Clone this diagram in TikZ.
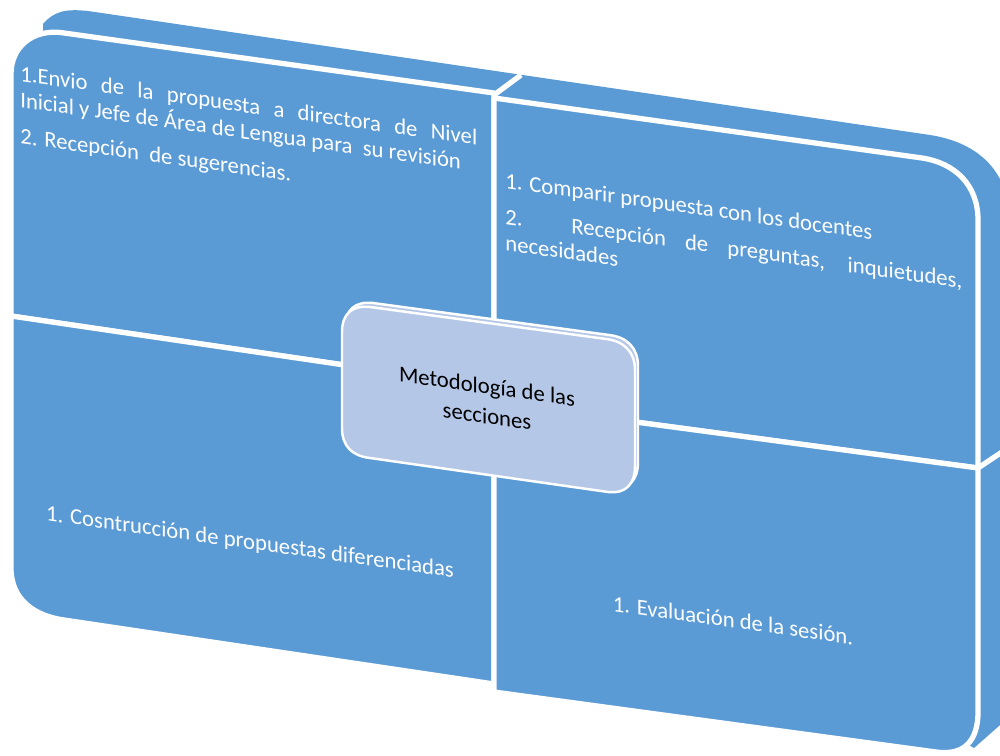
\documentclass[tikz,border=0pt]{standalone}
\usepackage{fontspec}
\setmainfont{Carlito}
\definecolor{qblue}{HTML}{5B9BD5}
\definecolor{cblue}{HTML}{B4C7E7}
\tikzset{
  face/.style={fill=qblue, draw=white, line width=3pt, line join=round},
  sepline/.style={draw=white, line width=3pt},
  cbox/.style={fill=cblue, draw=white, line width=1.4pt, line join=round},
  qtext/.style={text=white, inner sep=0pt, yslant=-0.14, font=\fontsize{12.9}{15}\selectfont},
  ctext/.style={text=black, inner sep=0pt, yslant=-0.14, font=\fontsize{12.9}{17}\selectfont},
}
\newcommand\cboxpathM{(342,332) .. controls (342,314) and (352,305) .. (370,307) -- (606,339) .. controls (624,341) and (635,352) .. (635,370) -- (635,466) .. controls (635,484) and (626,494) .. (608,492) -- (370,458) .. controls (352,456) and (342,446) .. (342,428) -- cycle}
\begin{document}
\begin{tikzpicture}[x=0.2mm,y=-0.2mm]
\useasboundingbox (0,0) rectangle (1000,756);
\fill[white] (0,0) rectangle (1000,756);
\clip (0,0) rectangle (1000,756);
% extrusion (top and right faces)
\fill[qblue] (43,40) -- (43,24) .. controls (55,10) and (68,9) .. (88,11) -- (930,135) .. controls (968,141) and (998,160) .. (1008,200) -- (1008,718) -- (974,748) -- (960,740) -- (500,400) -- cycle;
\draw[sepline] (494,95) -- (521,75);
\draw[sepline] (978,468) -- (1008,448);
% front faces
\path[face] (11,74) .. controls (11,47) and (33,28) .. (64,33) -- (494,93) -- (494,387) -- (11,316) -- cycle;
\path[face] (11,316) -- (494,387) -- (494,684) -- (64,620) .. controls (35,616) and (11,600) .. (11,568) -- cycle;
\path[face] (494,98) -- (922,158) .. controls (955,163) and (978,185) .. (978,220) -- (978,468) -- (494,403) -- cycle;
\path[face] (494,403) -- (978,468) -- (978,712) .. controls (978,740) and (965,756) .. (936,752) -- (494,692) -- cycle;
% center box
\path[cbox, shift={(3,-4)}] \cboxpathM;
\path[cbox] \cboxpathM;
% texts
\node[qtext, anchor=base west] (tltext) at (20,81) {\parbox[t]{260pt}{\tolerance=10000\setlength{\parskip}{5.5pt}1.Envio de la propuesta a directora de Nivel\linebreak Inicial y Jefe de Área de Lengua para\ \ su revisión\par 2. Recepción\ \ de sugerencias.}};
\node[qtext, anchor=base west] (trtext) at (505,188) {\parbox[t]{260pt}{\tolerance=10000\setlength{\parskip}{5.5pt}1. Comparir propuesta con los docentes\par 2. Recepción de preguntas, inquietudes,\linebreak necesidades}};
\node[qtext, anchor=base] (bltext) at (250,549) {1. Cosntrucción de propuestas diferenciadas};
\node[qtext, anchor=base] (brtext) at (733,628) {1. Evaluación de la sesión.};
\node[ctext, anchor=base] (ctext) at (487,394) {\parbox[t]{220pt}{\centering Metodología de las\\secciones}};
\end{tikzpicture}
\end{document}
